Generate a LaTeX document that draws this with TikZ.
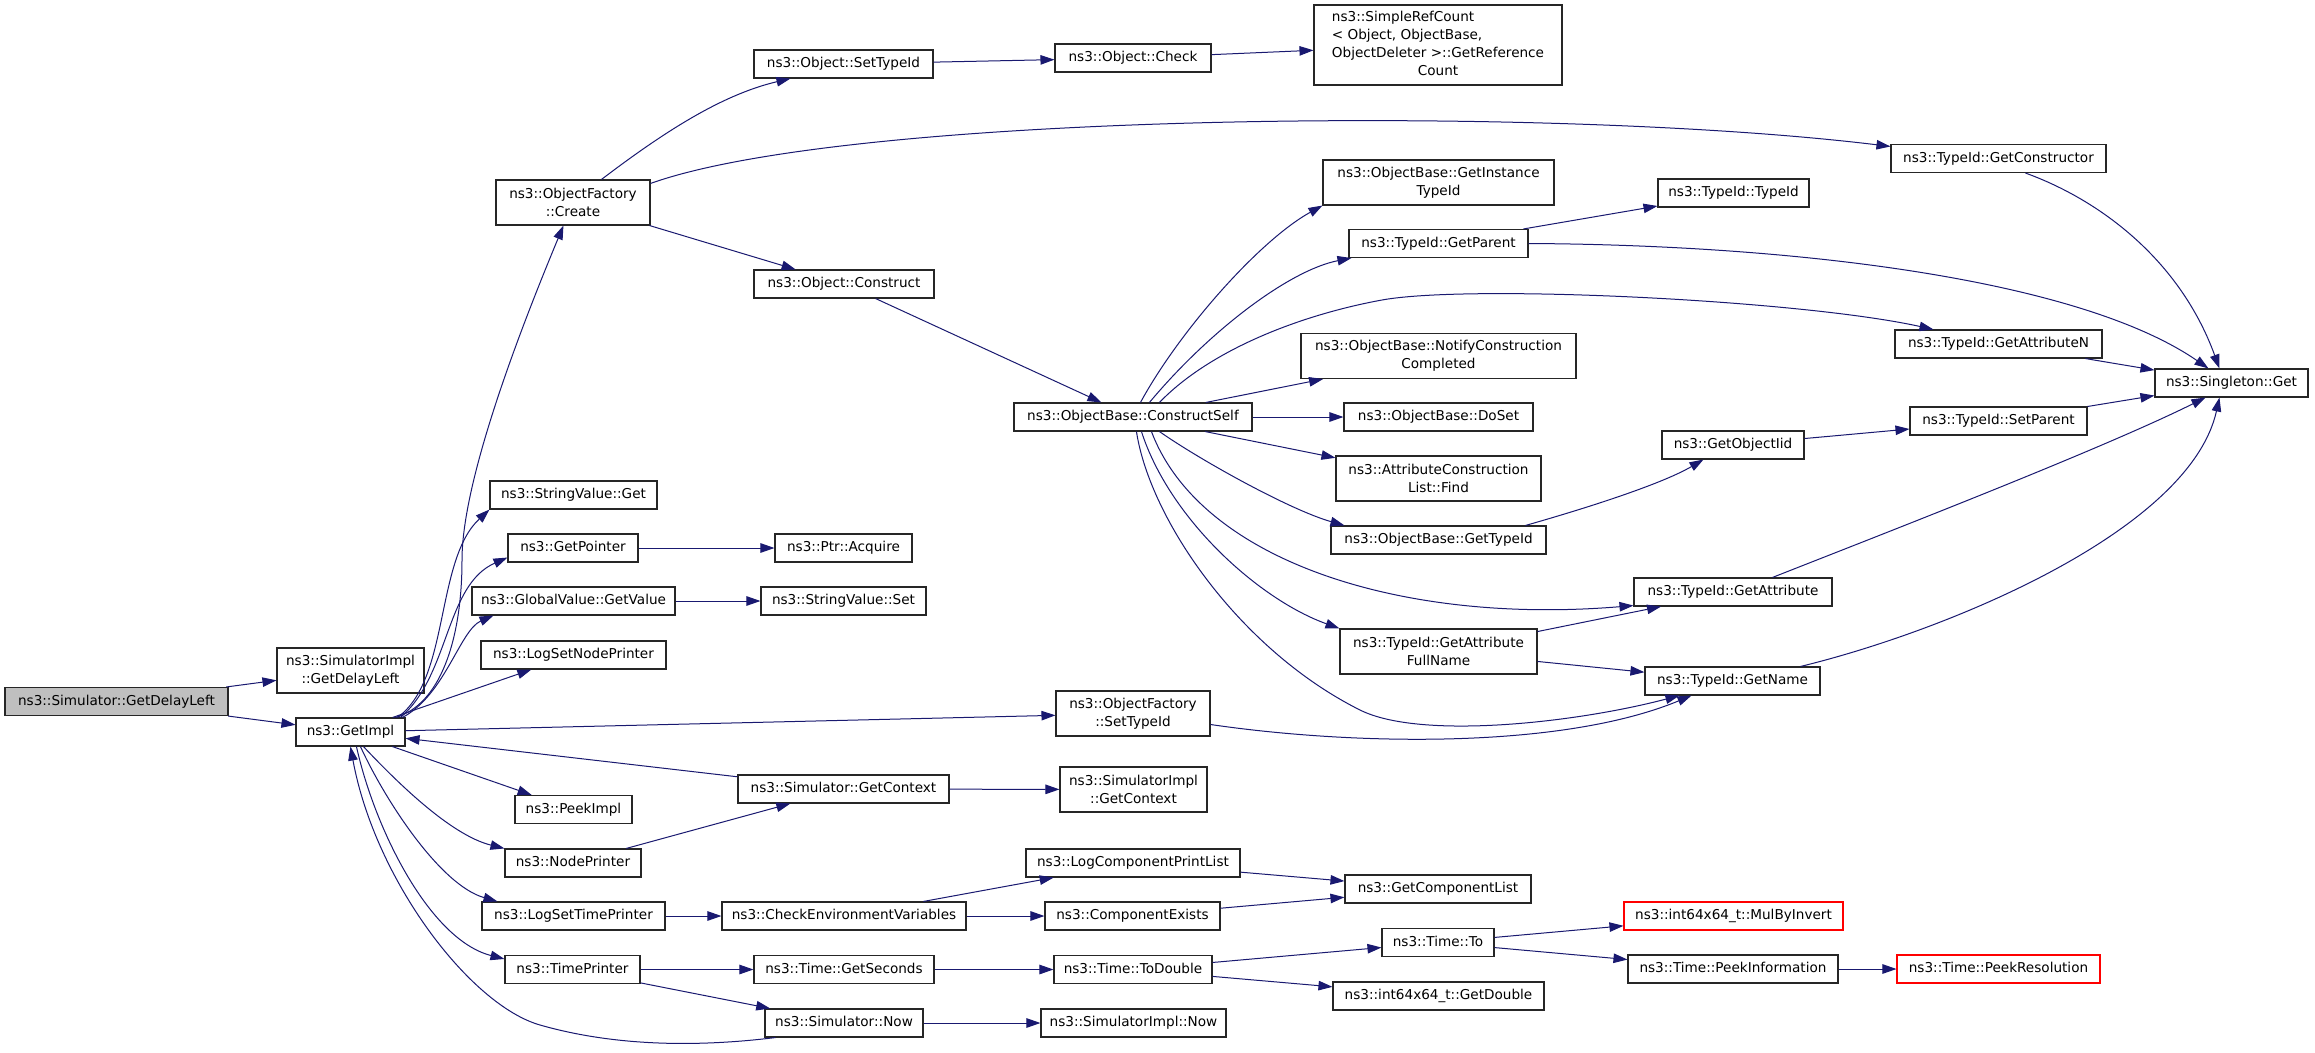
\documentclass[tikz,border=0pt]{standalone}
\usepackage{fontspec}
\setmainfont{DejaVu Sans}
\usetikzlibrary{arrows.meta,calc}
\definecolor{edgeblue}{HTML}{191970}
\definecolor{rootgray}{HTML}{BFBFBF}
\begin{document}
\begin{tikzpicture}[x=1pt,y=-1pt,
  fn/.style={draw=black!85, line width=1.1pt, fill=white, inner sep=0pt,
    font=\fontsize{13.6}{17.7}\selectfont, text=black},
  one/.style={text height=10pt, text depth=3pt},
  two/.style={align=center},
  redbox/.style={draw=red},
  rootbox/.style={fill=rootgray},
  call/.style={draw=edgeblue, line width=1pt, -{Triangle[length=14pt,width=9.5pt]}},
]
\fill[white] (0,0) rectangle (2315,1052);
\useasboundingbox (0,0) rectangle (2315,1052);

% column 1-2
\node[fn,one,rootbox,minimum width=223pt,minimum height=28pt] (root) at (116.5,701.5) {ns3::Simulator::GetDelayLeft};
\node[fn,two,minimum width=147pt,minimum height=45pt] (sidl) at (350.5,670.5) {ns3::SimulatorImpl\\::GetDelayLeft};
\node[fn,one,minimum width=109pt,minimum height=28pt] (getimpl) at (350.5,732) {ns3::GetImpl};

% column 3
\node[fn,two,minimum width=154pt,minimum height=45pt] (create) at (573,202.5) {ns3::ObjectFactory\\::Create};
\node[fn,one,minimum width=167pt,minimum height=28pt] (svGet) at (573.5,495) {ns3::StringValue::Get};
\node[fn,one,minimum width=130pt,minimum height=28pt] (getPointer) at (573,548) {ns3::GetPointer};
\node[fn,one,minimum width=203pt,minimum height=28pt] (gvGetValue) at (573.5,601) {ns3::GlobalValue::GetValue};
\node[fn,one,minimum width=185pt,minimum height=28pt] (logSetNode) at (573.5,655) {ns3::LogSetNodePrinter};
\node[fn,one,minimum width=117pt,minimum height=28pt] (peekImpl) at (573.5,809.5) {ns3::PeekImpl};
\node[fn,one,minimum width=136pt,minimum height=28pt] (nodePrinter) at (573,863) {ns3::NodePrinter};
\node[fn,one,minimum width=183pt,minimum height=28pt] (logSetTime) at (573.5,916) {ns3::LogSetTimePrinter};
\node[fn,one,minimum width=135pt,minimum height=28pt] (timePrinter) at (572.5,969.5) {ns3::TimePrinter};

% column 4
\node[fn,one,minimum width=179pt,minimum height=28pt] (setTypeId) at (843.5,64) {ns3::Object::SetTypeId};
\node[fn,one,minimum width=180pt,minimum height=28pt] (construct) at (844,284) {ns3::Object::Construct};
\node[fn,one,minimum width=137pt,minimum height=28pt] (acquire) at (843.5,548) {ns3::Ptr::Acquire};
\node[fn,one,minimum width=165pt,minimum height=28pt] (svSet) at (843.5,601) {ns3::StringValue::Set};
\node[fn,one,minimum width=211pt,minimum height=28pt] (simGetContext) at (843.5,789) {ns3::Simulator::GetContext};
\node[fn,one,minimum width=244pt,minimum height=28pt] (checkEnv) at (844,916) {ns3::CheckEnvironmentVariables};
\node[fn,one,minimum width=180pt,minimum height=28pt] (getSeconds) at (844,969.5) {ns3::Time::GetSeconds};
\node[fn,one,minimum width=158pt,minimum height=28pt] (simNow) at (844,1023) {ns3::Simulator::Now};

% column 5
\node[fn,one,minimum width=156pt,minimum height=28pt] (check) at (1133,58) {ns3::Object::Check};
\node[fn,one,minimum width=238pt,minimum height=28pt] (constructSelf) at (1133,417) {ns3::ObjectBase::ConstructSelf};
\node[fn,two,minimum width=154pt,minimum height=45pt] (ofSetTypeId) at (1133,713.5) {ns3::ObjectFactory\\::SetTypeId};
\node[fn,two,minimum width=147pt,minimum height=45pt] (simImplGetContext) at (1133.5,789.5) {ns3::SimulatorImpl\\::GetContext};
\node[fn,one,minimum width=214pt,minimum height=28pt] (logCompPrint) at (1133,863) {ns3::LogComponentPrintList};
\node[fn,one,minimum width=175pt,minimum height=28pt] (compExists) at (1132.5,916) {ns3::ComponentExists};
\node[fn,one,minimum width=158pt,minimum height=28pt] (toDouble) at (1133,969.5) {ns3::Time::ToDouble};
\node[fn,one,minimum width=185pt,minimum height=28pt] (simImplNow) at (1133.5,1023) {ns3::SimulatorImpl::Now};

% column 6
\node[fn,minimum width=248pt,minimum height=80pt] (refcount) at (1438,45) {\begin{tabular}{@{}l@{}}ns3::SimpleRefCount\\< Object, ObjectBase,\\\multicolumn{1}{@{}c@{}}{ObjectDeleter >::GetReference}\\\multicolumn{1}{@{}c@{}}{Count}\end{tabular}};
\node[fn,two,minimum width=231pt,minimum height=45pt] (instTypeId) at (1438.5,182.5) {ns3::ObjectBase::GetInstance\\TypeId};
\node[fn,one,minimum width=179pt,minimum height=28pt] (getParent) at (1438.5,243.5) {ns3::TypeId::GetParent};
\node[fn,two,minimum width=275pt,minimum height=45pt] (notify) at (1438.5,356) {ns3::ObjectBase::NotifyConstruction\\Completed};
\node[fn,one,minimum width=189pt,minimum height=28pt] (doSet) at (1438.5,417) {ns3::ObjectBase::DoSet};
\node[fn,two,minimum width=205pt,minimum height=45pt] (attrFind) at (1438.5,478.5) {ns3::AttributeConstruction\\List::Find};
\node[fn,one,minimum width=215pt,minimum height=28pt] (obGetTypeId) at (1438.5,540) {ns3::ObjectBase::GetTypeId};
\node[fn,two,minimum width=197pt,minimum height=45pt] (getAttrFull) at (1438.5,651.5) {ns3::TypeId::GetAttribute\\FullName};
\node[fn,one,minimum width=186pt,minimum height=28pt] (getCompList) at (1438,889) {ns3::GetComponentList};
\node[fn,one,minimum width=112pt,minimum height=28pt] (timeTo) at (1438,942.5) {ns3::Time::To};
\node[fn,one,minimum width=211pt,minimum height=28pt] (getDouble) at (1438.5,996) {ns3::int64x64\_t::GetDouble};

% column 7
\node[fn,one,minimum width=151pt,minimum height=28pt] (typeIdTypeId) at (1733.5,193) {ns3::TypeId::TypeId};
\node[fn,one,minimum width=142pt,minimum height=28pt] (getObjectIid) at (1733,445) {ns3::GetObjectIid};
\node[fn,one,minimum width=198pt,minimum height=28pt] (getAttr) at (1733,592) {ns3::TypeId::GetAttribute};
\node[fn,one,minimum width=175pt,minimum height=28pt] (getName) at (1732.5,681) {ns3::TypeId::GetName};
\node[fn,one,redbox,minimum width=219pt,minimum height=28pt] (mulByInvert) at (1733.5,916) {ns3::int64x64\_t::MulByInvert};
\node[fn,one,minimum width=210pt,minimum height=28pt] (peekInfo) at (1733,969) {ns3::Time::PeekInformation};

% column 8
\node[fn,one,minimum width=215pt,minimum height=28pt] (getctor) at (1998.5,158.5) {ns3::TypeId::GetConstructor};
\node[fn,one,minimum width=207pt,minimum height=28pt] (getAttrN) at (1998.5,344) {ns3::TypeId::GetAttributeN};
\node[fn,one,minimum width=177pt,minimum height=28pt] (setParent) at (1998.5,421) {ns3::TypeId::SetParent};
\node[fn,one,redbox,minimum width=203pt,minimum height=28pt] (peekRes) at (1998.5,969) {ns3::Time::PeekResolution};

% column 9
\node[fn,one,minimum width=153pt,minimum height=28pt] (singleton) at (2231.5,383) {ns3::Singleton::Get};

% ---------- connectors ----------
\draw[call] (root) -- (sidl);
\draw[call] (root) -- (getimpl);
\draw[call] ($(getimpl.north west)+(100,0)$) .. controls (440,705) and (462,640) .. (462,560) .. controls (462,480) and (520,330) .. ($(create.south west)+(68,0)$);
\draw[call] ($(getimpl.north west)+(102,0)$) .. controls (450,680) and (435,560) .. (svGet.south west);
\draw[call] ($(getimpl.north west)+(105,0)$) .. controls (450,675) and (445,585) .. ($(getPointer.south west)+(0,-5)$);
\draw[call] ($(getimpl.north west)+(107,0)$) .. controls (445,695) and (460,630) .. ($(gvGetValue.south west)+(22,0)$);
\draw[call] (getimpl) -- (logSetNode);
\draw[call] (getimpl) -- (ofSetTypeId);
\draw[call] (simGetContext) -- (getimpl);
\draw[call] (getimpl) -- (peekImpl);
\draw[call] ($(getimpl.south west)+(68,0)$) .. controls (395,780) and (450,835) .. (nodePrinter.north west);
\draw[call] ($(getimpl.south west)+(65,0)$) .. controls (385,800) and (440,885) .. ($(logSetTime.north west)+(16,0)$);
\draw[call] ($(getimpl.south west)+(61,0)$) .. controls (375,830) and (430,940) .. ($(timePrinter.north west)+(0,4)$);
\draw[call] ($(simNow.south west)+(11,0)$) .. controls (690,1048) and (610,1045) .. (540,1025) .. controls (470,1005) and (375,880) .. ($(getimpl.south west)+(55,0)$);

\draw[call] ($(create.north west)+(106,0)$) .. controls (660,135) and (720,95) .. ($(setTypeId.south west)+(37,0)$);
\draw[call] ($(create.north east)+(0,4)$) .. controls (850,112) and (1550,105) .. ($(getctor.north west)+(0,2.5)$);
\draw[call] (create) -- (construct);
\draw[call] (setTypeId) -- (check);
\draw[call] (check) -- (refcount);
\draw[call] (construct) -- (constructSelf);
\draw[call] ($(getctor.south west)+(135,0)$) .. controls (2100,200) and (2180,260) .. ($(singleton.north west)+(65,0)$);

\draw[call] ($(constructSelf.north west)+(127,0)$) .. controls (1180,330) and (1260,240) .. (instTypeId.south west);
\draw[call] ($(constructSelf.north west)+(136,0)$) .. controls (1210,330) and (1290,270) .. ($(getParent.south west)+(3,0)$);
\draw[call] ($(constructSelf.north west)+(146,0)$) .. controls (1210,350) and (1300,315) .. (1382,300) .. controls (1470,284) and (1800,300) .. ($(getAttrN.north west)+(39,0)$);
\draw[call] (constructSelf) -- (notify);
\draw[call] (constructSelf) -- (doSet);
\draw[call] (constructSelf) -- (attrFind);
\draw[call] ($(constructSelf.south west)+(146,0)$) .. controls (1200,460) and (1290,510) .. ($(obGetTypeId.north west)+(14,0)$);
\draw[call] ($(constructSelf.south west)+(138,0)$) .. controls (1200,560) and (1400,625) .. ($(getAttr.south west)+(0,-1)$);
\draw[call] ($(constructSelf.south west)+(128,0)$) .. controls (1170,520) and (1260,600) .. (getAttrFull.north west);
\draw[call] ($(constructSelf.south west)+(123,0)$) .. controls (1150,520) and (1240,650) .. (1360,710) .. controls (1420,740) and (1575,723) .. ($(getName.south west)+(35,0)$);

\draw[call] (getParent) -- (typeIdTypeId);
\draw[call] (getParent.east) .. controls (1800,245) and (2080,280) .. ($(singleton.north west)+(54,0)$);
\draw[call] (getAttrN) -- (singleton);
\draw[call] (setParent) -- (singleton);
\draw[call] ($(getAttr.north west)+(139,0)$) .. controls (1880,535) and (2100,450) .. ($(singleton.south west)+(51,0)$);
\draw[call] ($(getName.north east)+(-20,0)$) .. controls (1950,630) and (2190,530) .. ($(singleton.south west)+(65,0)$);
\draw[call] (getObjectIid) -- (setParent);
\draw[call] ($(obGetTypeId.north west)+(195,0)$) .. controls (1580,510) and (1660,485) .. ($(getObjectIid.south west)+(42,0)$);
\draw[call] (getAttrFull) -- (getAttr);
\draw[call] (getAttrFull) -- (getName);
\draw[call] ($(ofSetTypeId.east)+(0,11)$) .. controls (1350,745) and (1560,750) .. ($(getName.south west)+(47,0)$);

\draw[call] (getPointer) -- (acquire);
\draw[call] (gvGetValue) -- (svSet);
\draw[call] (simGetContext) -- (simImplGetContext);
\draw[call] (nodePrinter) -- (simGetContext);
\draw[call] (logSetTime) -- (checkEnv);
\draw[call] (checkEnv) -- (logCompPrint);
\draw[call] (checkEnv) -- (compExists);
\draw[call] (logCompPrint) -- (getCompList);
\draw[call] (compExists) -- (getCompList);
\draw[call] (timePrinter) -- (getSeconds);
\draw[call] (timePrinter) -- (simNow);
\draw[call] (getSeconds) -- (toDouble);
\draw[call] (toDouble) -- (timeTo);
\draw[call] (toDouble) -- (getDouble);
\draw[call] (timeTo) -- (mulByInvert);
\draw[call] (timeTo) -- (peekInfo);
\draw[call] (peekInfo) -- (peekRes);
\draw[call] (simNow) -- (simImplNow);
\end{tikzpicture}
\end{document}
